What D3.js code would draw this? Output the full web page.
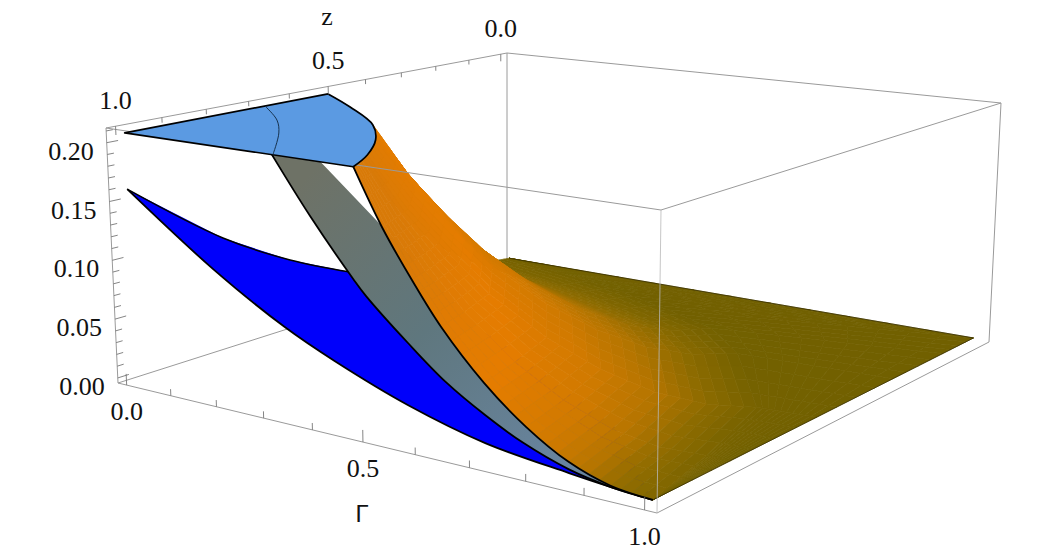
<!DOCTYPE html>
<html>
<head>
<meta charset="utf-8">
<script src="https://cdn.jsdelivr.net/npm/d3@7"></script>
<style>
  html, body { margin: 0; background: #fff; }
  text { font-family: "Liberation Serif", serif; font-size: 26px; fill: #111; }
</style>
</head>
<body>
<svg id="chart" width="1050" height="551"></svg>
<script>
// tick labels
let gammaLabels = [0, 0.5, 1];
let zLabels = [1, 0.5, 0];
let valueLabels = [0, 0.05, 0.1, 0.15, 0.2];
let gammaMinor = d3.range(0, 11).map(d => d / 10);
let valueMinor = d3.range(0, 22).map(d => d / 100);

// top plateau, value is constant
let plateauValue = 0.208;
let plateauGamma = [0, 0.123, 0.268, 0.359, 0.43, 0.473];
let plateauZ = [0.523, 0.606, 0.717, 0.817, 0.919, 1];
let innerArcGamma = [0, 0.112, 0.196, 0.315];
let innerArcZ = [0.682, 0.773, 0.859, 1];

// blue sheet: edge at z = 1, then the upper boundary
let blueGamma = [0, 0.183, 0.33, 0.43, 0.571, 0.713, 0.86, 0.931, 1];
let blueValue = [0.16, 0.1055, 0.0695, 0.0505, 0.0285, 0.0129, 0.0051, 0.0021, 0];
let blueUpperGamma = [0, 0.107, 0.167, 0.207];
let blueUpperZ = [1, 0.9, 0.81, 0.71];
let blueUpperValue = [0.16, 0.1161, 0.0925, 0.0746];
let blueHiddenGamma = [0.5, 0.8];
let blueHiddenZ = [0.7, 0.8];
let blueHiddenValue = [0.04, 0.0064];

// grey sheet
let greyGamma = [0.313, 0.387, 0.469, 0.493, 0.572, 0.642, 0.713, 0.78, 0.86, 0.931, 1];
let greyValue = [0.208, 0.163, 0.119, 0.1075, 0.077, 0.0528, 0.0342, 0.0198, 0.0078, 0.0021, 0];
let greyUpperGamma = [0.41, 0.399, 0.6, 0.85];
let greyUpperZ = [1, 0.85, 0.85, 0.9];
let greyUpperValue = [0.208, 0.1408, 0.067, 0.0095];

// orange sheet: rays from the plateau arc out to where it meets the floor
let contactGamma = [0, 0.2, 0.33, 0.47, 0.6, 0.72, 0.9, 0.96, 1];
let contactZ = [0, 0.05, 0.09, 0.15, 0.21, 0.32, 0.56, 0.8, 1];
let borderGamma = [0, 0.35, 0.68, 1, 1, 1, 1, 1, 1];
let borderZ = [0, 0, 0, 0, 0.12, 0.3, 0.55, 0.8, 1];
let rayArcGamma = [0, 0.123, 0.195, 0.268, 0.315, 0.359, 0.43, 0.455, 0.473];
let rayArcZ = [0.523, 0.606, 0.66, 0.717, 0.765, 0.817, 0.919, 0.965, 1];
let rayLight = [0.35, 0.4, 0.45, 0.5, 0.6, 0.72, 0.85, 0.95, 1];
let profileT = [0, 0.1, 0.204, 0.305, 0.452, 0.593, 0.733, 0.868, 1];
let profileValue = [0.208, 0.164, 0.1268, 0.0947, 0.0585, 0.0322, 0.0133, 0.003, 0];

let svg = d3.select('#chart');

let gammaScale = d3.scaleLinear().domain([-0.02, 1.02]).range([0, 1]);
let zScale = d3.scaleLinear().domain([-0.02, 1.02]).range([0, 1]);
let valueScale = d3.scaleLinear().domain([-0.0043, 0.2125]).range([0, 1]);

// corners of the box in the picture, w is the perspective weight of each corner
let cLeft = { w: 1, bx: 118, by: 383, tx: 106, ty: 128 };
let cFront = { w: 0.833, bx: 657, by: 513, tx: 661, ty: 210 };
let cBack = { w: 1.242, bx: 507, by: 259, tx: 507, ty: 53 };
let cRight = { w: 1.075, bx: 989, by: 342, tx: 1001, ty: 103 };

function project(g, z, v) {
  let u = gammaScale(g), w = zScale(z), h = valueScale(v);
  let b = [(1 - u) * w * cLeft.w, u * w * cFront.w, (1 - u) * (1 - w) * cBack.w, u * (1 - w) * cRight.w];
  let cs = [cLeft, cFront, cBack, cRight];
  let sum = d3.sum(b);
  let fx = 0, fy = 0, tx = 0, ty = 0;
  cs.forEach(function(c, i) {
    fx += b[i] * c.bx; fy += b[i] * c.by;
    tx += b[i] * c.tx; ty += b[i] * c.ty;
  });
  fx /= sum; fy /= sum; tx /= sum; ty /= sum;
  return [fx + (tx - fx) * h, fy + (ty - fy) * h];
}
function depth(g, z) {
  let u = gammaScale(g), w = zScale(z);
  return (1 - u) * w * cLeft.w + u * w * cFront.w + (1 - u) * (1 - w) * cBack.w + u * (1 - w) * cRight.w;
}

let line = d3.line();
let smooth = d3.line().curve(d3.curveCatmullRom);
let zMax = zScale.domain()[1], zMin = zScale.domain()[0];
let gMin = gammaScale.domain()[0], gMax = gammaScale.domain()[1];
let vMin = valueScale.domain()[0], vMax = valueScale.domain()[1];

function boxLine(p, q, color, opacity) {
  svg.append('path')
    .attr('d', line([project(p[0], p[1], p[2]), project(q[0], q[1], q[2])]))
    .attr('fill', 'none')
    .attr('stroke', color || '#9a9a9a')
    .attr('stroke-opacity', opacity || 1)
    .attr('stroke-width', 1);
}
function edge(d, width, color) {
  svg.append('path').attr('d', d).attr('fill', 'none')
    .attr('stroke', color || '#000').attr('stroke-width', width);
}
function toL(pts) {
  return pts.map(p => 'L' + p[0] + ',' + p[1]).join('');
}

// back edges of the box go under everything
boxLine([gMin, zMax, vMin], [gMin, zMin, vMin]);
boxLine([gMin, zMin, vMin], [gMin, zMin, vMax]);
boxLine([gMin, zMin, vMax], [gMax, zMin, vMax]);
boxLine([gMin, zMin, vMax], [gMin, zMax, vMax]);
boxLine([gMax, zMin, vMin], [gMax, zMin, vMax]);
boxLine([gMax, zMin, vMin], [gMax, zMax, vMin]);
boxLine([gMin, zMax, vMin], [gMin, zMax, vMax]);
boxLine([gMin, zMax, vMin], [gMax, zMax, vMin]);

// blue sheet
let bluePts = blueGamma.map((g, i) => project(g, 1, blueValue[i]));
let blueUpper = blueUpperGamma.map((g, i) => project(g, blueUpperZ[i], blueUpperValue[i]));
let blueHidden = blueHiddenGamma.map((g, i) => project(g, blueHiddenZ[i], blueHiddenValue[i]));
svg.append('path')
  .attr('d', smooth(bluePts) + toL(blueHidden.slice().reverse()) + toL(blueUpper.slice().reverse()) + 'Z')
  .attr('fill', '#0000fb');
edge(smooth(bluePts), 1.8);
edge(smooth(blueUpper), 1.5);

// grey sheet
let defs = svg.append('defs');
let greyFrom = project(0.35, 1, 0.18), greyTo = project(0.85, 1, 0.01);
let greyGrad = defs.append('linearGradient').attr('id', 'greyGrad')
  .attr('gradientUnits', 'userSpaceOnUse')
  .attr('x1', greyFrom[0]).attr('y1', greyFrom[1]).attr('x2', greyTo[0]).attr('y2', greyTo[1]);
greyGrad.append('stop').attr('offset', 0).attr('stop-color', '#6e7266');
greyGrad.append('stop').attr('offset', 0.5).attr('stop-color', '#5f777e');
greyGrad.append('stop').attr('offset', 1).attr('stop-color', '#68849f');

let greyPts = greyGamma.map((g, i) => project(g, 1, greyValue[i]));
let greyUpper = greyUpperGamma.map((g, i) => project(g, greyUpperZ[i], greyUpperValue[i]));
svg.append('path')
  .attr('d', smooth(greyPts) + toL(greyUpper.slice().reverse()) + 'Z')
  .attr('fill', 'url(#greyGrad)');
edge(smooth(greyPts), 1.8);

// orange sheet, built as a fine mesh so the shading stays smooth
let nodeCount = profileT.length + 1;
function node(i, j) {
  if (j === profileT.length) return { g: borderGamma[i], z: borderZ[i], v: 0, s: 0 };
  let t = profileT[j];
  return {
    g: rayArcGamma[i] + (contactGamma[i] - rayArcGamma[i]) * t,
    z: rayArcZ[i] + (contactZ[i] - rayArcZ[i]) * t,
    v: profileValue[j],
    s: 0
  };
}
let nodes = rayArcGamma.map((_, i) => d3.range(nodeCount).map(j => node(i, j)));
nodes.forEach(function(row, i) {
  row.forEach(function(n, j) {
    let a = row[Math.max(j - 1, 0)], b = row[Math.min(j + 1, nodeCount - 1)];
    let dist = Math.hypot(b.g - a.g, b.z - a.z);
    n.s = dist > 0 ? rayLight[i] * Math.abs(b.v - a.v) / dist : 0;
  });
});
let shade = d3.scaleLinear()
  .domain([0, 0.07, 0.156, 0.25, 0.4, 0.7])
  .range(['#716000', '#8c6b00', '#b57500', '#d07a00', '#e57c00', '#d87a08'])
  .clamp(true);

function mix(a, b, t) {
  return { g: a.g + (b.g - a.g) * t, z: a.z + (b.z - a.z) * t, v: a.v + (b.v - a.v) * t, s: a.s + (b.s - a.s) * t };
}
let sub = 4;
let cells = [];
for (let i = 0; i < nodes.length - 1; i++) {
  for (let j = 0; j < nodeCount - 1; j++) {
    let steps = j === nodeCount - 2 ? 10 : sub;
    for (let a = 0; a < sub; a++) {
      for (let b = 0; b < steps; b++) {
        let at = function(x, y) {
          return mix(mix(nodes[i][j], nodes[i + 1][j], x / sub), mix(nodes[i][j + 1], nodes[i + 1][j + 1], x / sub), y / steps);
        };
        let q = [at(a, b), at(a + 1, b), at(a + 1, b + 1), at(a, b + 1)];
        cells.push({ q: q, depth: depth(d3.mean(q, d => d.g), d3.mean(q, d => d.z)), s: d3.mean(q, d => d.s) });
      }
    }
  }
}
cells.sort((p, q) => q.depth - p.depth);
svg.append('g').selectAll('path')
  .data(cells)
  .enter().append('path')
    .attr('d', d => line(d.q.map(n => project(n.g, n.z, n.v))) + 'Z')
    .attr('fill', d => shade(d.s))
    .attr('stroke', d => shade(d.s))
    .attr('stroke-width', 0.7);

// edges of the orange sheet and of the floor
let orangeEdge = nodes[nodes.length - 1].slice(0, profileT.length).map(n => project(n.g, n.z, n.v));
edge(smooth(orangeEdge), 1.8);
edge(line([project(0, 0, 0), project(1, 0, 0), project(1, 1, 0)]), 0.7, '#2e2700');

// front edges of the box are drawn over the surfaces
boxLine([gMin, zMax, vMax], [gMax, zMax, vMax]);
boxLine([gMax, zMax, vMax], [gMax, zMin, vMax]);
boxLine([gMax, zMax, vMin], [gMax, zMax, vMax], '#b8b8b8', 0.8);

// plateau
let arcPts = plateauGamma.map((g, i) => project(g, plateauZ[i], plateauValue));
let apex = project(0, 1, plateauValue);
svg.append('path')
  .attr('d', smooth(arcPts) + toL([apex]) + 'Z')
  .attr('fill', '#5b9ae2')
  .attr('stroke', '#000')
  .attr('stroke-width', 1.7)
  .attr('stroke-linejoin', 'round');
edge(smooth(innerArcGamma.map((g, i) => project(g, innerArcZ[i], plateauValue))), 1, '#16324f');

// ticks
function tick(p, q) {
  svg.append('path')
    .attr('d', line([project(p[0], p[1], p[2]), project(q[0], q[1], q[2])]))
    .attr('fill', 'none').attr('stroke', '#777').attr('stroke-width', 0.9);
}
gammaMinor.forEach(function(g) {
  let major = gammaLabels.includes(g);
  tick([g, zMax, vMin], [g, zMax, vMin + (major ? 0.0095 : 0.0055)]);
});
gammaMinor.forEach(function(z) {
  let major = zLabels.includes(z);
  tick([gMin, z, vMax], [gMin, z, vMax - (major ? 0.0075 : 0.0045)]);
});
valueMinor.forEach(function(v) {
  let major = valueLabels.includes(v);
  tick([gMin, zMax, v], [gMin, zMax - (major ? 0.024 : 0.014), v]);
});

// labels, placed off the axis they belong to
svg.append('g').selectAll('text')
  .data(valueLabels)
  .enter().append('text')
    .attr('x', d => project(gMin, zMax, d)[0] - 13)
    .attr('y', d => project(gMin, zMax, d)[1] + 17)
    .attr('text-anchor', 'end')
    .text(d => d3.format('.2f')(d));
svg.append('g').selectAll('text')
  .data(zLabels)
  .enter().append('text')
    .attr('x', d => project(gMin, d, vMax)[0])
    .attr('y', d => project(gMin, d, vMax)[1] - 17)
    .attr('text-anchor', 'middle')
    .text(d => d3.format('.1f')(d));
svg.append('g').selectAll('text')
  .data(gammaLabels)
  .enter().append('text')
    .attr('x', d => project(d, zMax, vMin)[0])
    .attr('y', d => project(d, zMax, vMin)[1] + 35)
    .attr('text-anchor', 'middle')
    .text(d => d3.format('.1f')(d));
svg.append('text').attr('x', 327).attr('y', 25).attr('text-anchor', 'middle').text('z');
svg.append('text').attr('x', 362).attr('y', 522).attr('text-anchor', 'middle')
  .style('font-family', '"Liberation Sans", sans-serif').style('font-size', '24px').text('Γ');
</script>
</body>
</html>
